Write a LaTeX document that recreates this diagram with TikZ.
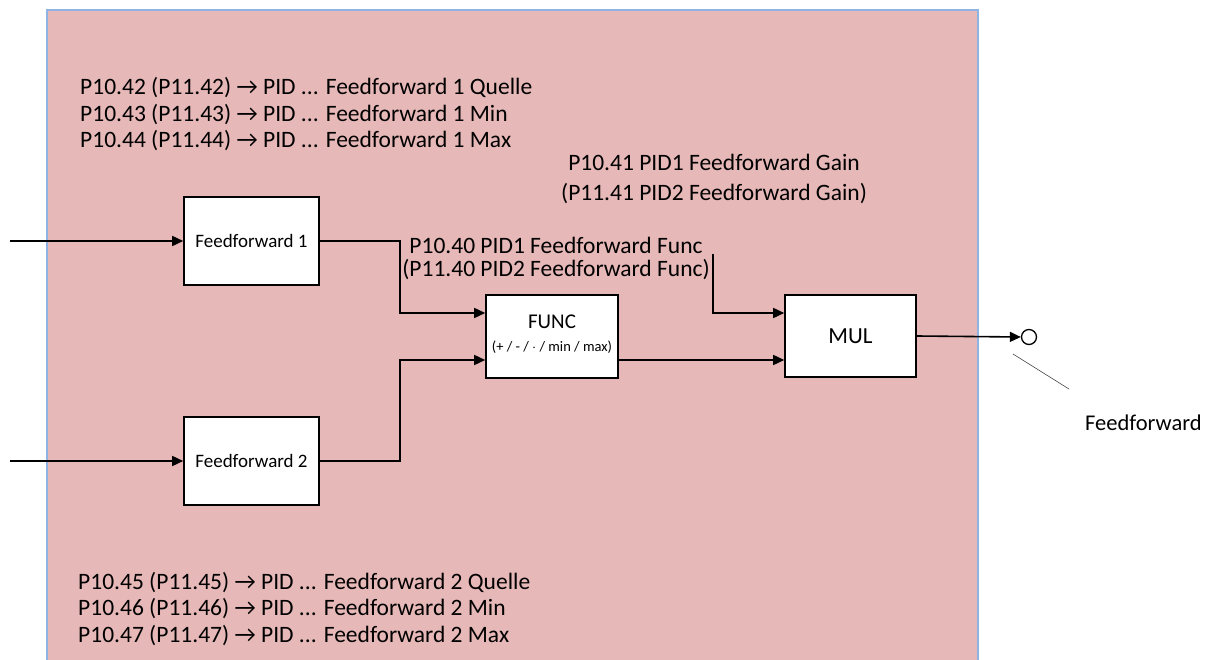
\documentclass[tikz,border=0pt]{standalone}
\usepackage{fontspec}
\setmainfont{Carlito}
\usetikzlibrary{arrows.meta,calc}
\definecolor{bgpink}{RGB}{230,184,183}
\definecolor{bgborder}{RGB}{142,180,227}
\tikzset{
  blk/.style={draw=black, line width=1.6pt, fill=white, minimum width=135pt, minimum height=88pt, inner sep=0pt},
  arr/.style={line width=1.6pt, -{Triangle[length=11pt,width=10pt]}},
  lbl/.style={font=\fontsize{23.5}{26.5}\selectfont, inner sep=0pt},
}
\begin{document}
\begin{tikzpicture}[x=1pt,y=-1pt]
\useasboundingbox (0,0) rectangle (1210,660);
\fill[white] (0,0) rectangle (1210,660);
\draw[fill=bgpink, draw=bgborder, line width=1.2pt] (47,10) -- (47,662) -- (978,662) -- (978,10) -- cycle;

% text blocks (anchor = baseline of last line)
\node[lbl, anchor=base west, align=left] (t1) at (80,148) {P10.42 (P11.42) → PID ... Feedforward 1 Quelle\\P10.43 (P11.43) → PID ... Feedforward 1 Min\\P10.44 (P11.44) → PID ... Feedforward 1 Max};
\node[lbl, anchor=base west, align=left] (t2) at (78,642) {P10.45 (P11.45) → PID ... Feedforward 2 Quelle\\P10.46 (P11.46) → PID ... Feedforward 2 Min\\P10.47 (P11.47) → PID ... Feedforward 2 Max};
\node[lbl, anchor=base, align=center, font=\fontsize{23.5}{30}\selectfont] (tg) at (714,201) {P10.41 PID1 Feedforward Gain\\(P11.41 PID2 Feedforward Gain)};
\node[lbl, anchor=base, align=center, font=\fontsize{23.5}{24}\selectfont] (tf) at (556,277) {P10.40 PID1 Feedforward Func\\(P11.40 PID2 Feedforward Func)};

% blocks
\node[blk] (ff1) at (251.5,241) {\fontsize{19}{21}\selectfont Feedforward 1};
\node[blk] (ff2) at (251.5,461) {\fontsize{19}{21}\selectfont Feedforward 2};
\node[blk, minimum width=132pt, minimum height=83pt] (func) at (552,336.5) {};
\node[font=\fontsize{21}{22}\selectfont, inner sep=0pt] (funct) at (552,322) {FUNC};
\node[font=\fontsize{14.5}{16}\selectfont, inner sep=0pt] (funcs) at (552,347) {(+ / - / $\cdot$ / min / max)};
\node[blk, minimum width=131pt, minimum height=82pt] (mul) at (850.5,336) {\fontsize{23}{24}\selectfont MUL};
\node[draw=black, line width=1.3pt, circle, minimum size=15pt, inner sep=0pt] (out) at (1029,337) {};
\node[lbl, anchor=base west, font=\fontsize{22.5}{24}\selectfont] (fflbl) at (1085,430) {Feedforward};

\coordinate (in1) at (10,241);
\coordinate (in2) at (10,461);
\coordinate (g0) at (713,254);

% connectors
\draw[arr] (in1) -- (ff1.west);
\draw[arr] (in2) -- (ff2.west);
\draw[arr] (ff1.east) -- (400,241) |- ($(func.west)+(0,-23.5)$);
\draw[arr] (ff2.east) -- (400,461) |- ($(func.west)+(0,23.5)$);
\draw[arr] ($(func.east)+(0,23.5)$) -- ($(mul.west)+(0,24)$);
\draw[arr] (g0) |- ($(mul.west)+(0,-23)$);
\draw[arr] (mul.east) -- (out.west);
\draw[line width=0.6pt, black!70] (1013,354) -- (1069,389);
\end{tikzpicture}
\end{document}
